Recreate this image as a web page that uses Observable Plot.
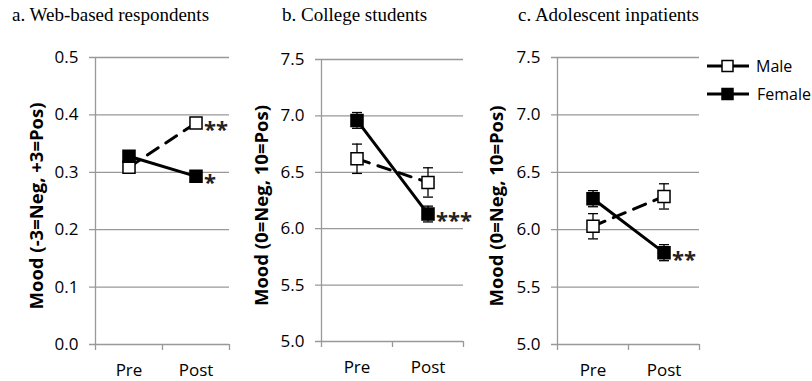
<!DOCTYPE html>
<html>
<head>
<meta charset="utf-8">
<script src="https://cdn.jsdelivr.net/npm/d3@7"></script>
<script src="https://cdn.jsdelivr.net/npm/@observablehq/plot@0.6"></script>
<style>
  html, body { margin: 0; padding: 0; background: #fff; }
  #wrap { position: relative; width: 812px; height: 381px; overflow: hidden; }
  #wrap > svg, #wrap > figure { position: absolute; top: 0; margin: 0; }
</style>
</head>
<body>
<div id="wrap"></div>
<script>
// ---- data ----
const categories = ["Pre", "Post"];
const series = ["Male", "Female"];
const panelTitles = ["a. Web-based respondents", "b. College students", "c. Adolescent inpatients"];
const yTitles = ["Mood (-3=Neg, +3=Pos)", "Mood (0=Neg, 10=Pos)", "Mood (0=Neg, 10=Pos)"];

const webTicks = [0, 0.1, 0.2, 0.3, 0.4, 0.5];
const moodTicks = [5.0, 5.5, 6.0, 6.5, 7.0, 7.5];

const webMale = [0.309, 0.386];
const webFemale = [0.328, 0.293];
const webMaleErr = [0.008, 0.008];
const webFemaleErr = [0.008, 0.008];
const webSig = {Male: "**", Female: "*"};

const collegeMale = [6.62, 6.41];
const collegeFemale = [6.96, 6.13];
const collegeMaleErr = [0.13, 0.13];
const collegeFemaleErr = [0.07, 0.07];
const collegeSig = {Male: "", Female: "***"};

const adolMale = [6.03, 6.29];
const adolFemale = [6.27, 5.80];
const adolMaleErr = [0.11, 0.11];
const adolFemaleErr = [0.07, 0.07];
const adolSig = {Male: "", Female: "**"};

// ---- helpers ----
const capSymbol = {
  draw(ctx, size) {
    const r = Math.sqrt(size / Math.PI);
    ctx.moveTo(-r, 0);
    ctx.lineTo(r, 0);
  }
};
const FONT = "Open Sans";
const GRID = "#999999";

function makeRows(male, female, maleErr, femaleErr, sig) {
  const rows = [];
  categories.forEach((c, i) => {
    series.forEach(s => {
      rows.push({
        cat: c, x: i + 0.5, series: s,
        y: s === "Male" ? male[i] : female[i],
        err: s === "Male" ? maleErr[i] : femaleErr[i],
        sig: i === categories.length - 1 ? sig[s] : ""
      });
    });
  });
  return rows;
}

function panel(o) {
  const rows = makeRows(o.male, o.female, o.maleErr, o.femaleErr, o.sig);
  const male = rows.filter(d => d.series === "Male");
  const female = rows.filter(d => d.series === "Female");
  const chart = Plot.plot({
    width: o.width, height: 381,
    marginLeft: o.marginLeft, marginRight: o.marginRight,
    marginTop: o.marginTop, marginBottom: o.marginBottom,
    style: {fontFamily: FONT, fontSize: "17px", background: "transparent", overflow: "visible", color: "#000"},
    x: {domain: [0, categories.length], axis: null},
    y: {domain: o.domain, axis: null},
    marks: [
      Plot.ruleY(o.ticks, {stroke: GRID, strokeWidth: 1.3, insetLeft: -6}),
      Plot.ruleX([0], {stroke: GRID, strokeWidth: 1.3}),
      Plot.axisY({ticks: o.ticks, tickFormat: o.fmt, tickSize: 0, tickPadding: 17, fontSize: 17, fill: "#000", label: null}),
      Plot.axisX({ticks: d3.range(categories.length + 1), tickFormat: () => "", tickSize: 6, color: GRID, strokeWidth: 1.3, label: null}),
      Plot.axisX({ticks: categories.map((c, i) => i + 0.5), tickFormat: v => categories[Math.floor(v)], tickSize: 0, tickPadding: 19, fontSize: 17, fill: "#000", label: null}),
      Plot.text([o.yTitle], {frameAnchor: "left", textAnchor: "middle", dx: o.titleDx, dy: 5, rotate: -90, fontWeight: "bold", fontSize: 18.5, fill: "#000"}),
      Plot.line(male, {x: "x", y: "y", stroke: "#000", strokeWidth: 3, strokeDasharray: "13,9"}),
      Plot.line(female, {x: "x", y: "y", stroke: "#000", strokeWidth: 3}),
      Plot.ruleX(rows, {x: "x", y1: d => d.y - d.err, y2: d => d.y + d.err, stroke: "#000", strokeWidth: 1.3}),
      Plot.dot(rows, {x: "x", y: d => d.y - d.err, symbol: capSymbol, r: 5, stroke: "#000", fill: "none", strokeWidth: 1.3}),
      Plot.dot(rows, {x: "x", y: d => d.y + d.err, symbol: capSymbol, r: 5, stroke: "#000", fill: "none", strokeWidth: 1.3}),
      Plot.dot(rows, {x: "x", y: "y", symbol: "square", r: 6.8, stroke: "#000", strokeWidth: 1.5, fill: d => d.series === "Male" ? "#fff" : "#000"}),
      Plot.text(rows.filter(d => d.sig), {x: "x", y: "y", text: "sig", dx: 8, dy: 7, textAnchor: "start", fontSize: 22, fontWeight: "bold", fill: "#222"})
    ]
  });
  chart.style.left = o.left + "px";
  return chart;
}

const wrap = document.getElementById("wrap");
const fmt = d3.format(".1f");

wrap.appendChild(panel({
  left: 0, width: 240, marginLeft: 95, marginRight: 11, marginTop: 57, marginBottom: 37,
  domain: [0, 0.5], ticks: webTicks, fmt, male: webMale, female: webFemale,
  maleErr: webMaleErr, femaleErr: webFemaleErr, sig: webSig, yTitle: yTitles[0], titleDx: -58
}));
wrap.appendChild(panel({
  left: 240, width: 240, marginLeft: 81, marginRight: 17, marginTop: 59, marginBottom: 40,
  domain: [5, 7.5], ticks: moodTicks, fmt, male: collegeMale, female: collegeFemale,
  maleErr: collegeMaleErr, femaleErr: collegeFemaleErr, sig: collegeSig, yTitle: yTitles[1], titleDx: -59
}));
wrap.appendChild(panel({
  left: 480, width: 240, marginLeft: 77, marginRight: 21, marginTop: 57, marginBottom: 37,
  domain: [5, 7.5], ticks: moodTicks, fmt, male: adolMale, female: adolFemale,
  maleErr: adolMaleErr, femaleErr: adolFemaleErr, sig: adolSig, yTitle: yTitles[2], titleDx: -60
}));

// ---- titles and legend overlay ----
const over = d3.select(wrap).append("svg")
  .attr("width", 812).attr("height", 381)
  .style("left", "0px").style("pointer-events", "none");

const titleX = [12, 282, 518];
panelTitles.forEach((t, i) => {
  over.append("text").attr("x", titleX[i]).attr("y", 21)
    .attr("font-family", "Liberation Serif, Times New Roman, serif")
    .attr("font-size", 19).attr("fill", "#000").text(t);
});

const legendY = [66, 94];
series.forEach((s, i) => {
  const g = over.append("g").attr("transform", `translate(0,${legendY[i]})`);
  g.append("line").attr("x1", 707).attr("x2", 749).attr("y1", 0).attr("y2", 0)
    .attr("stroke", "#000").attr("stroke-width", 3);
  g.append("rect").attr("x", 722).attr("y", -5.5).attr("width", 11).attr("height", 11)
    .attr("fill", s === "Male" ? "#fff" : "#000").attr("stroke", "#000").attr("stroke-width", 1.5);
  g.append("text").attr("x", s === "Male" ? 756 : 757).attr("y", 0).attr("dy", "0.35em")
    .attr("font-family", FONT).attr("font-size", 16).attr("fill", "#000").text(s);
});
</script>
</body>
</html>
